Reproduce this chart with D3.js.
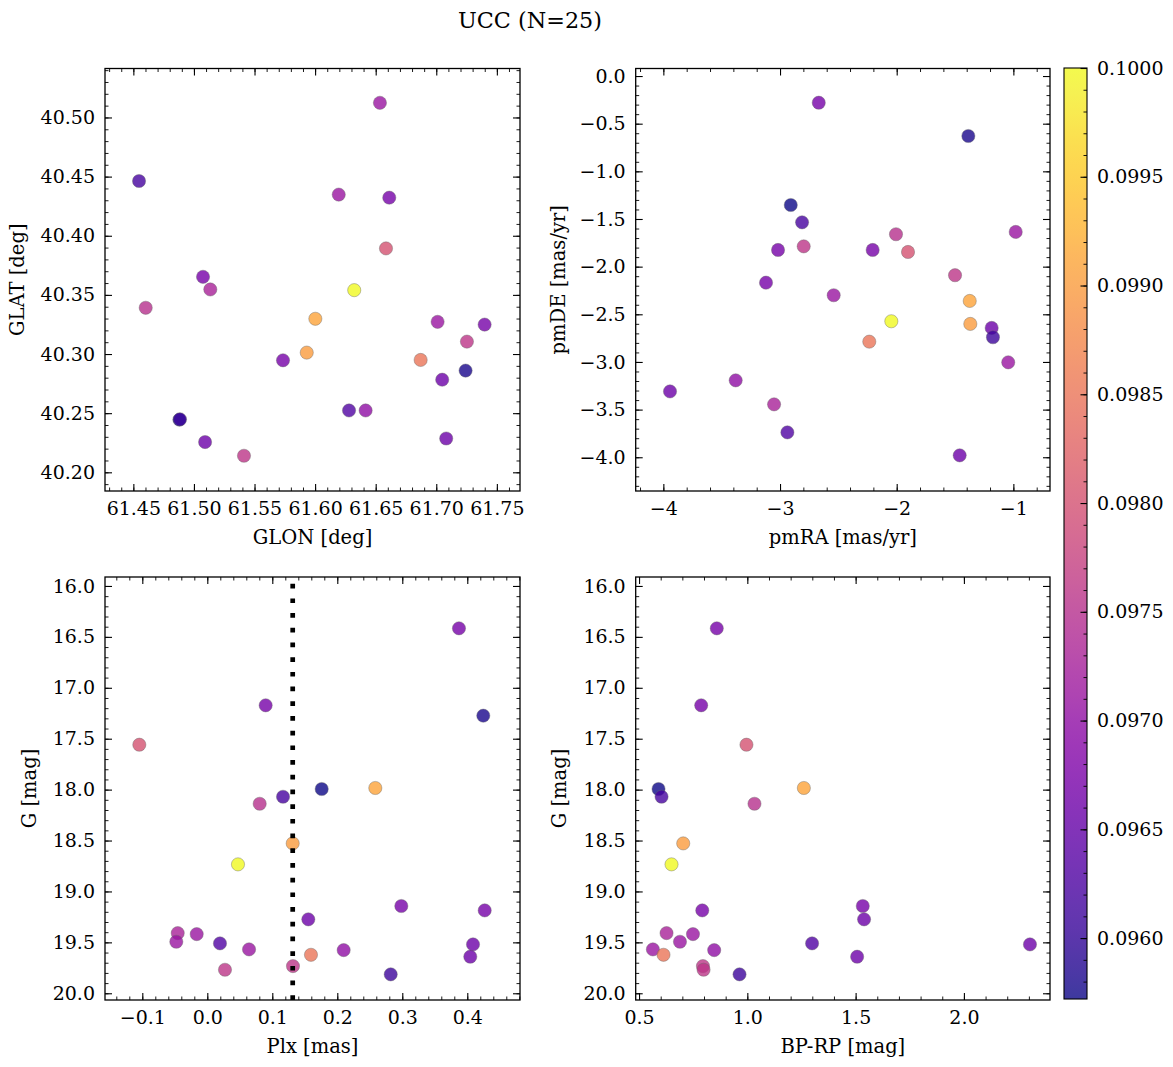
<!DOCTYPE html>
<html><head><meta charset="utf-8">
<script src="https://cdn.jsdelivr.net/npm/d3@7"></script>
<style>
body{margin:0;background:#fff}
svg{display:block}
text{font-family:"DejaVu Serif",serif;fill:#000}
</style>
</head><body>
<svg id="c" width="1173" height="1067"></svg>
<script>
// ---- data (one entry per star, 25 stars) ----
const glon = [61.6612,61.5075,61.7242,61.6585,61.4880,61.6002,61.4547,61.4602,61.5931,61.6323,61.7399,61.5735,61.7049,61.5135,61.6535,61.6195,61.6280,61.7082,61.7011,61.6417,61.6871,61.5092,61.7253,61.5413,61.4885];
const glat = [40.4322,40.3653,40.2860,40.3893,40.2445,40.3298,40.4463,40.3391,40.3012,40.3540,40.3249,40.2947,40.2783,40.3546,40.5124,40.4348,40.2523,40.2286,40.3272,40.2523,40.2950,40.2256,40.3105,40.2140,40.2448];
const pmra = [-2.668,-3.017,-1.386,-1.903,-2.908,-1.374,-2.811,-2.006,-1.369,-2.046,-2.206,-3.120,-3.943,-3.051,-0.980,-2.540,-2.937,-1.460,-1.044,-3.380,-2.235,-1.186,-2.797,-1.500,-1.175];
const pmde = [-0.280,-1.825,-0.629,-1.846,-1.353,-2.360,-1.535,-1.660,-2.601,-2.573,-1.825,-2.168,-3.309,-3.445,-1.636,-2.300,-3.739,-3.980,-3.004,-3.193,-2.787,-2.643,-1.787,-2.090,-2.741];
const plx  = [0.3872,0.0898,0.4246,-0.1046,0.1760,0.2585,0.1165,0.0806,0.1314,0.0472,0.2985,0.4268,0.1554,-0.0455,-0.0163,-0.0477,0.0195,0.4088,0.0642,0.2098,0.1595,0.4046,0.1318,0.0272,0.2822];
const gmag = [16.416,17.172,17.274,17.559,17.994,17.984,18.070,18.139,18.528,18.734,19.143,19.186,19.274,19.409,19.419,19.494,19.510,19.520,19.569,19.576,19.622,19.641,19.733,19.769,19.814];
const bprp = [0.859,0.787,null,0.996,0.590,1.261,0.604,1.033,0.704,0.650,1.533,0.792,1.539,0.627,0.749,0.689,1.299,2.305,0.564,0.847,0.613,1.507,0.795,0.798,0.964];
const prob = [0.0967,0.0967,0.0958,0.0980,0.09572,0.0991,0.0962,0.0975,0.0990,0.1000,0.0967,0.0967,0.0966,0.0973,0.0971,0.0971,0.0963,0.0966,0.0971,0.0970,0.0985,0.0966,0.0976,0.0976,0.0961];
const plxLine = 0.1314;
const title = "UCC (N=25)";

// ---- tick labels ----
const glonTicks = [61.45,61.50,61.55,61.60,61.65,61.70,61.75];
const glonLabels = ["61.45","61.50","61.55","61.60","61.65","61.70","61.75"];
const glatTicks = [40.20,40.25,40.30,40.35,40.40,40.45,40.50];
const glatLabels = ["40.20","40.25","40.30","40.35","40.40","40.45","40.50"];
const pmraTicks = [-4,-3,-2,-1];
const pmraLabels = ["\u22124","\u22123","\u22122","\u22121"];
const pmdeTicks = [0,-0.5,-1,-1.5,-2,-2.5,-3,-3.5,-4];
const pmdeLabels = ["0.0","\u22120.5","\u22121.0","\u22121.5","\u22122.0","\u22122.5","\u22123.0","\u22123.5","\u22124.0"];
const plxTicks = [-0.1,0,0.1,0.2,0.3,0.4];
const plxLabels = ["\u22120.1","0.0","0.1","0.2","0.3","0.4"];
const gTicks = [16,16.5,17,17.5,18,18.5,19,19.5,20];
const gLabels = ["16.0","16.5","17.0","17.5","18.0","18.5","19.0","19.5","20.0"];
const colTicks = [0.5,1.0,1.5,2.0];
const colLabels = ["0.5","1.0","1.5","2.0"];
const cbTicks = [0.0960,0.0965,0.0970,0.0975,0.0980,0.0985,0.0990,0.0995,0.1000];
const cbLabels = ["0.0960","0.0965","0.0970","0.0975","0.0980","0.0985","0.0990","0.0995","0.1000"];

// ---- drawing ----
const svg = d3.select("#c");
svg.append("rect").attr("width",1173).attr("height",1067).attr("fill","#fff");
const FS = 19, LFS = 19.5;
const vmin = d3.min(prob), vmax = 0.1000;
const cnorm = d3.scaleLinear().domain([vmin, vmax]).clamp(true);
const cmap = v => d3.interpolatePlasma(cnorm(v));

function minors(dom, step){
  const a = Math.min(dom[0],dom[1]), b = Math.max(dom[0],dom[1]);
  const s = Math.ceil(a/step - 1e-9), e = Math.floor(b/step + 1e-9);
  return d3.range(s, e+1).map(k => +(k*step).toFixed(9));
}

let clipId = 0;
function panel(c){
  const x = d3.scaleLinear().domain(c.xDom).range([c.L, c.R]);
  const y = d3.scaleLinear().domain(c.yDom).range([c.B, c.T]);
  const g = svg.append("g");
  const id = "clip" + (clipId++);
  g.append("clipPath").attr("id", id).append("rect")
    .attr("x", c.L).attr("y", c.T).attr("width", c.R-c.L).attr("height", c.B-c.T);

  const idx = d3.range(c.xs.length).filter(i => c.xs[i] != null && c.ys[i] != null);
  g.append("g").attr("clip-path", `url(#${id})`)
    .selectAll("circle").data(idx).join("circle")
    .attr("cx", i => x(c.xs[i])).attr("cy", i => y(c.ys[i])).attr("r", 6.6)
    .attr("fill", i => cmap(c.cs[i])).attr("fill-opacity", 0.8)
    .attr("stroke", "#666").attr("stroke-width", 0.5).attr("stroke-opacity", 0.8);

  if (c.vline != null){
    g.append("line").attr("clip-path", `url(#${id})`)
      .attr("x1", x(c.vline)).attr("x2", x(c.vline)).attr("y1", c.B).attr("y2", c.T)
      .attr("stroke", "#000").attr("stroke-width", 4.7).attr("stroke-dasharray", "4.7,10");
  }

  const xMin = minors(c.xDom, c.xStep), yMin = minors(c.yDom, c.yStep);
  const mk = k => (k===0? d3.axisBottom(x) : k===1 ? d3.axisTop(x) : k===2 ? d3.axisLeft(y) : d3.axisRight(y));
  const trs = [`translate(0,${c.B})`, `translate(0,${c.T})`, `translate(${c.L},0)`, `translate(${c.R},0)`];
  [0,1,2,3].forEach(k => {
    const isX = k < 2, lab = (k===0 || k===2);
    const m = svg.append("g").attr("transform", trs[k])
      .call(mk(k).tickValues(isX ? xMin : yMin).tickSizeInner(-3.5).tickSizeOuter(0).tickFormat(""));
    m.select(".domain").remove();
    m.selectAll("line").attr("stroke","#000").attr("stroke-width",0.9);
    const labels = isX ? c.xLabels : c.yLabels;
    const M = svg.append("g").attr("transform", trs[k])
      .call(mk(k).tickValues(isX ? c.xTicks : c.yTicks).tickSizeInner(-7).tickSizeOuter(0)
        .tickPadding(isX ? 11 : 10)
        .tickFormat((d,i) => lab ? labels[i] : ""));
    M.select(".domain").remove();
    M.selectAll("line").attr("stroke","#000").attr("stroke-width",1.1);
    M.selectAll("text").attr("font-family","DejaVu Serif").attr("font-size",FS).attr("fill","#000");
  });
  svg.append("rect").attr("x", c.L).attr("y", c.T).attr("width", c.R-c.L).attr("height", c.B-c.T)
    .attr("fill","none").attr("stroke","#000").attr("stroke-width",1.3);
  svg.append("text").attr("x", (c.L+c.R)/2).attr("y", c.B + 53)
    .attr("text-anchor","middle").attr("font-size", LFS).text(c.xLabel);
  svg.append("text").attr("transform", `translate(${c.yLabX},${(c.T+c.B)/2}) rotate(-90)`)
    .attr("text-anchor","middle").attr("font-size", LFS).text(c.yLabel);
}

const T1 = 68.5, B1 = 491, T2 = 577, B2 = 1000;
const L1 = 105, R1 = 520, L2 = 635.7, R2 = 1050;

panel({L:L1,R:R1,T:T1,B:B1, xDom:[61.4266,61.7691], yDom:[40.1842,40.5414],
  xTicks:glonTicks, xLabels:glonLabels, yTicks:glatTicks, yLabels:glatLabels,
  xStep:0.01, yStep:0.01, xLabel:"GLON [deg]", yLabel:"GLAT [deg]", yLabX:24,
  xs:glon, ys:glat, cs:prob});
panel({L:L2,R:R2,T:T1,B:B1, xDom:[-4.237,-0.686], yDom:[-4.354,0.079],
  xTicks:pmraTicks, xLabels:pmraLabels, yTicks:pmdeTicks, yLabels:pmdeLabels,
  xStep:0.2, yStep:0.1, xLabel:"pmRA [mas/yr]", yLabel:"pmDE [mas/yr]", yLabX:565,
  xs:pmra, ys:pmde, cs:prob});
panel({L:L1,R:R1,T:T2,B:B2, xDom:[-0.1574,0.4811], yDom:[20.066,15.912],
  xTicks:plxTicks, xLabels:plxLabels, yTicks:gTicks, yLabels:gLabels,
  xStep:0.02, yStep:0.1, xLabel:"Plx [mas]", yLabel:"G [mag]", yLabX:36,
  xs:plx, ys:gmag, cs:prob, vline:plxLine});
panel({L:L2,R:R2,T:T2,B:B2, xDom:[0.4846,2.3975], yDom:[20.066,15.912],
  xTicks:colTicks, xLabels:colLabels, yTicks:gTicks, yLabels:gLabels,
  xStep:0.1, yStep:0.1, xLabel:"BP-RP [mag]", yLabel:"G [mag]", yLabX:566,
  xs:bprp, ys:gmag, cs:prob});

// colorbar
const cbL = 1064, cbR = 1087, cbT = 68, cbB = 999;
const defs = svg.append("defs");
const grad = defs.append("linearGradient").attr("id","cbg")
  .attr("x1",0).attr("y1",1).attr("x2",0).attr("y2",0);
d3.range(0, 41).forEach(k => {
  grad.append("stop").attr("offset", k/40)
    .attr("stop-color", d3.interpolatePlasma(k/40)).attr("stop-opacity", 0.8);
});
svg.append("rect").attr("x",cbL).attr("y",cbT).attr("width",cbR-cbL).attr("height",cbB-cbT)
  .attr("fill","url(#cbg)");
const cy = d3.scaleLinear().domain([vmin, vmax]).range([cbB, cbT]);
const cbMin = svg.append("g").attr("transform",`translate(${cbR},0)`)
  .call(d3.axisRight(cy).tickValues(minors([vmin,vmax],0.0001)).tickSizeInner(-3.5).tickSizeOuter(0).tickFormat(""));
cbMin.select(".domain").remove();
cbMin.selectAll("line").attr("stroke","#000").attr("stroke-width",0.9);
const cbMaj = svg.append("g").attr("transform",`translate(${cbR},0)`)
  .call(d3.axisRight(cy).tickValues(cbTicks).tickSizeInner(-6.5).tickSizeOuter(0).tickPadding(10)
    .tickFormat((d,i) => cbLabels[i]));
cbMaj.select(".domain").remove();
cbMaj.selectAll("line").attr("stroke","#000").attr("stroke-width",1.1);
cbMaj.selectAll("text").attr("font-family","DejaVu Serif").attr("font-size",FS).attr("fill","#000");
svg.append("rect").attr("x",cbL).attr("y",cbT).attr("width",cbR-cbL).attr("height",cbB-cbT)
  .attr("fill","none").attr("stroke","#000").attr("stroke-width",1.1);

// title
svg.append("text").attr("x",530).attr("y",28).attr("text-anchor","middle")
  .attr("font-size",22.3).text(title);
</script>
</body></html>
